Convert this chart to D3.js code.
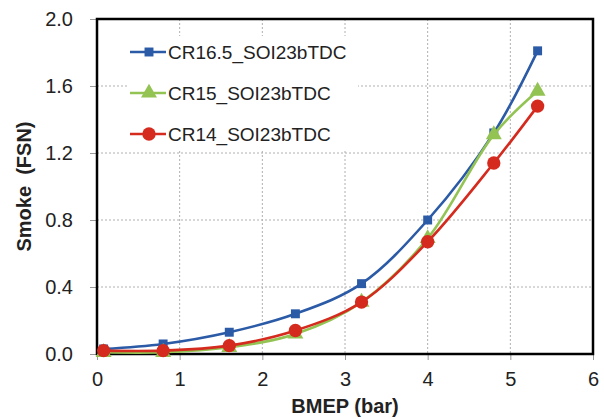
<!DOCTYPE html>
<html>
<head>
<meta charset="utf-8">
<script src="https://cdn.jsdelivr.net/npm/d3@7"></script>
<style>
  body { margin: 0; background: #fff; }
  svg { font-family: "Liberation Sans", Arial, sans-serif; }
</style>
</head>
<body>
<div id="chart"></div>
<script>
// BMEP values (bar), shared by all three series
const bmep = [0.08, 0.8, 1.6, 2.4, 3.2, 4.0, 4.8, 5.33];

// Smoke (FSN) per series
const smokeCR165 = [0.03, 0.06, 0.13, 0.24, 0.42, 0.80, 1.32, 1.81];
const smokeCR15 = [0.01, 0.01, 0.04, 0.12, 0.31, 0.69, 1.31, 1.57];
const smokeCR14 = [0.02, 0.02, 0.05, 0.14, 0.31, 0.67, 1.14, 1.48];

const seriesNames = ['CR16.5_SOI23bTDC', 'CR15_SOI23bTDC', 'CR14_SOI23bTDC'];
const xTicks = [0, 1, 2, 3, 4, 5, 6];
const yTicks = [0.0, 0.4, 0.8, 1.2, 1.6, 2.0];

const series = [
  { name: seriesNames[0], values: smokeCR165, color: '#2b5aa6', marker: 'square' },
  { name: seriesNames[1], values: smokeCR15, color: '#93c353', marker: 'triangle' },
  { name: seriesNames[2], values: smokeCR14, color: '#d52a1e', marker: 'circle' }
];

const W = 604, H = 419;
const margin = { top: 19, right: 11, bottom: 65, left: 97 };
const width = W - margin.left - margin.right;
const height = H - margin.top - margin.bottom;

const svg = d3.select('#chart').append('svg')
  .attr('width', W)
  .attr('height', H);

const g = svg.append('g')
  .attr('transform', `translate(${margin.left},${margin.top})`);

const x = d3.scaleLinear().domain([0, 6]).range([0, width]);
const y = d3.scaleLinear().domain([0, 2]).range([height, 0]);

// grid lines
g.append('g').selectAll('line')
  .data(xTicks.slice(1, -1))
  .join('line')
  .attr('x1', d => x(d)).attr('x2', d => x(d))
  .attr('y1', 0).attr('y2', height)
  .attr('stroke', '#b0b0b0')
  .attr('stroke-width', 1)
  .attr('stroke-dasharray', '2,2');

g.append('g').selectAll('line')
  .data(yTicks.slice(1, -1))
  .join('line')
  .attr('x1', 0).attr('x2', width)
  .attr('y1', d => y(d)).attr('y2', d => y(d))
  .attr('stroke', '#b0b0b0')
  .attr('stroke-width', 1)
  .attr('stroke-dasharray', '2,2');

// axes
const xAxis = g.append('g')
  .attr('transform', `translate(0,${height})`)
  .call(d3.axisBottom(x).tickValues(xTicks).tickFormat(d3.format('d')).tickSize(6).tickPadding(12));

const yAxis = g.append('g')
  .call(d3.axisLeft(y).tickValues(yTicks).tickFormat(d3.format('.1f')).tickSize(7).tickPadding(17));

[xAxis, yAxis].forEach(a => {
  a.select('.domain').remove();
  a.selectAll('.tick line').attr('stroke', '#999').attr('stroke-width', 1);
  a.selectAll('.tick text').attr('fill', '#222').style('font-size', '20px');
});

// frame
g.append('rect')
  .attr('x', 0).attr('y', 0)
  .attr('width', width).attr('height', height)
  .attr('fill', 'none')
  .attr('stroke', '#000')
  .attr('stroke-width', 2.5);

// legend background (covers grid)
const legend = g.append('g').attr('transform', 'translate(33,33)');
legend.append('rect')
  .attr('x', -2).attr('y', -16)
  .attr('width', 230).attr('height', 113)
  .attr('fill', '#fff');

const symbolFor = m => m === 'square'
  ? d3.symbol().type(d3.symbolSquare).size(80)
  : m === 'triangle'
    ? d3.symbol().type(d3.symbolTriangle).size(110)
    : d3.symbol().type(d3.symbolCircle).size(140);

// series lines and markers
const line = d3.line()
  .x((d, i) => x(bmep[i]))
  .y(d => y(d))
  .curve(d3.curveCatmullRom.alpha(0.5));

series.forEach(s => {
  g.append('path')
    .datum(s.values)
    .attr('fill', 'none')
    .attr('stroke', s.color)
    .attr('stroke-width', 2.6)
    .attr('d', line);

  g.append('g').selectAll('path')
    .data(s.values)
    .join('path')
    .attr('transform', (d, i) => `translate(${x(bmep[i])},${y(d)})`)
    .attr('d', symbolFor(s.marker)())
    .attr('fill', s.color);
});

// legend entries
series.forEach((s, i) => {
  const row = legend.append('g').attr('transform', `translate(0,${i * 41})`);
  row.append('line')
    .attr('x1', 0).attr('x2', 36)
    .attr('stroke', s.color)
    .attr('stroke-width', 2.6);
  row.append('path')
    .attr('transform', 'translate(19,0)')
    .attr('d', symbolFor(s.marker)())
    .attr('fill', s.color);
  row.append('text')
    .attr('x', 38)
    .attr('dy', '0.35em')
    .style('font-size', '19px')
    .attr('fill', '#222')
    .text(s.name);
});

// axis titles
svg.append('text')
  .attr('x', margin.left + width / 2)
  .attr('y', 413)
  .attr('text-anchor', 'middle')
  .style('font-size', '20px')
  .style('font-weight', 'bold')
  .attr('fill', '#222')
  .text('BMEP (bar)');

svg.append('text')
  .attr('transform', `translate(31,${margin.top + height / 2}) rotate(-90)`)
  .attr('text-anchor', 'middle')
  .style('font-size', '20px')
  .style('font-weight', 'bold')
  .attr('fill', '#222')
  .attr('xml:space', 'preserve')
  .text('Smoke  (FSN)');
</script>
</body>
</html>
